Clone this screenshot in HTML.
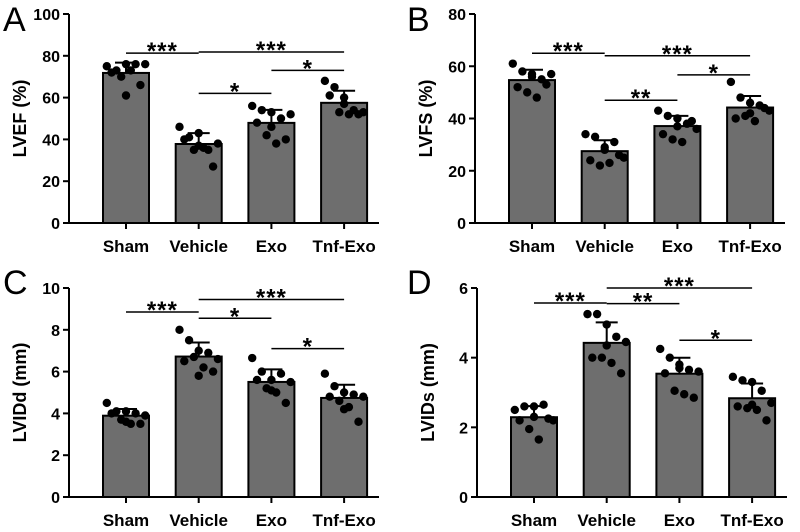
<!DOCTYPE html>
<html><head><meta charset="utf-8"><style>
body{margin:0;background:#fff;}
svg text{font-family:"Liberation Sans",Arial,sans-serif;font-weight:bold;fill:#000;}
</style></head><body>
<svg id="fig" width="800" height="527" viewBox="0 0 800 527"></svg>
<script>
const categories=["Sham","Vehicle","Exo","Tnf-Exo"];
const lvefPoints=[[75,73,76,76,76,72,70,73,66,61],[46,41,43,35,38,40,35,36,27,37],[56,54,53,50,52,48,42,38,40,46],[68,65,60,54,53,61,53,52,52,57]];
const lvfsPoints=[[61,58,57,55,57,52,50,48,53,56],[34,33,29,31,25,24,22,23,26,28],[43,41,40,38,36,34,32,31,39,37],[54,48,46,45,43,40,41,39,44,42]];
const lviddPoints=[[4.5,4.1,4.1,4.0,3.9,4.0,3.7,3.5,3.5,3.6],[8.0,7.5,7.0,6.9,6.6,6.5,6.7,6.2,6.0,5.8],[6.65,6.0,5.6,5.9,5.5,5.6,5.2,5.0,4.5,5.1],[5.9,5.3,5.0,4.9,4.8,4.8,4.6,4.3,3.6,4.2]];
const lvidsPoints=[[2.5,2.6,2.6,2.65,2.2,2.2,1.95,1.65,2.25,2.3],[5.25,5.25,4.95,4.6,4.45,4.0,4.0,3.85,3.55,4.35],[4.25,4.0,3.8,3.65,3.6,3.55,3.05,2.95,2.85,3.7],[3.45,3.35,3.3,3.05,2.7,2.6,2.55,2.5,2.2,2.65]];
const lvefTicks=[0,20,40,60,80,100];
const lvfsTicks=[0,20,40,60,80];
const lviddTicks=[0,2,4,6,8,10];
const lvidsTicks=[0,2,4,6];
// significance brackets: [from, to, height, label]
const lvefSig=[[0,1,81.3,"***"],[1,3,81.8,"***"],[2,3,73,"*"],[1,2,62,"*"]];
const lvfsSig=[[0,1,65,"***"],[1,3,64,"***"],[2,3,56.7,"*"],[1,2,47,"**"]];
const lviddSig=[[0,1,8.85,"***"],[1,3,9.45,"***"],[1,2,8.55,"*"],[2,3,7.1,"*"]];
const lvidsSig=[[0,1,5.57,"***"],[1,3,6.0,"***"],[1,2,5.55,"**"],[2,3,4.5,"*"]];

const NS="http://www.w3.org/2000/svg";
const svg=document.getElementById('fig');
function mk(tag,attrs,parent){const e=document.createElementNS(NS,tag);for(const k in attrs)e.setAttribute(k,attrs[k]);(parent||svg).appendChild(e);return e;}
const jitter=[-16,-8,0,8,16,-12,-4,4,12,0];

function panel(id,letter,ylabel,points,ticks,sig,x0,yTop,yBot,letterX,letterY){
  const g=mk('g',{});
  
  
  const vmax=ticks[ticks.length-1];
  const y=v=>yBot-(v/vmax)*(yBot-yTop);
  const xs=i=>x0+57+i*72.7;
  const L=mk('text',{x:letterX,y:letterY,'font-size':34,style:'font-weight:normal'},g);L.textContent=letter;
  
  
  const ya=mk('line',{x1:x0,y1:yTop,x2:x0,y2:yBot,stroke:'#000','stroke-width':2},g);
  
  
  const xa=mk('line',{x1:x0,y1:yBot,x2:x0+310,y2:yBot,stroke:'#000','stroke-width':2},g);
  
  
  ticks.forEach(t=>{
    mk('line',{x1:x0-6,y1:y(t),x2:x0,y2:y(t),stroke:'#000','stroke-width':2},g);
    const tt=mk('text',{x:x0-9,y:y(t)+6,'font-size':16,'text-anchor':'end'},g);tt.textContent=t;
    
    
  });
  const yl=mk('text',{x:0,y:0,'font-size':18,'text-anchor':'middle',transform:`translate(${x0-43},${(yTop+yBot)/2}) rotate(-90)`},g);
  yl.textContent=ylabel;
  
  
  points.forEach((pts,i)=>{
    const mean=pts.reduce((a,b)=>a+b,0)/pts.length;
    const sd=Math.sqrt(pts.reduce((a,b)=>a+(b-mean)**2,0)/(pts.length-1));
    const cx=xs(i);
    const b=mk('rect',{x:cx-23,y:y(mean),width:46,height:yBot-y(mean),fill:'#6e6e6e',stroke:'#000','stroke-width':2},g);
    
    
    mk('line',{x1:cx,y1:y(mean),x2:cx,y2:y(mean+sd),stroke:'#000','stroke-width':2},g);
    const eb=mk('line',{x1:cx-11,y1:y(mean+sd),x2:cx+11,y2:y(mean+sd),stroke:'#000','stroke-width':2},g);
    
    
    pts.forEach((v,k)=>{
      const c=mk('circle',{cx:cx+jitter[k]*1.2,cy:y(v),r:4.2,fill:'#000'},g);
      
      
    });
    mk('line',{x1:cx,y1:yBot,x2:cx,y2:yBot+6,stroke:'#000','stroke-width':2},g);
    const cl=mk('text',{x:cx,y:yBot+29,'font-size':17,'text-anchor':'middle'},g);cl.textContent=categories[i];
    
    
  });
  sig.forEach(s=>{
    const yy=y(s[2]);
    const ln=mk('line',{x1:xs(s[0]),y1:yy,x2:xs(s[1]),y2:yy,stroke:'#000','stroke-width':1.5},g);
    
    
    const st=mk('text',{x:(xs(s[0])+xs(s[1]))/2,y:yy+6,'font-size':24,'text-anchor':'middle','letter-spacing':1},g);
    st.textContent=s[3];
    
    
  });
}
panel('a','A','LVEF (%)',lvefPoints,lvefTicks,lvefSig,69,14,223,3,31);
panel('b','B','LVFS (%)',lvfsPoints,lvfsTicks,lvfsSig,475,14,223,407,31);
panel('c','C','LVIDd (mm)',lviddPoints,lviddTicks,lviddSig,69,288,497,3,294);
panel('d','D','LVIDs (mm)',lvidsPoints,lvidsTicks,lvidsSig,477,288,497,407,294);
</script>
</body></html>
